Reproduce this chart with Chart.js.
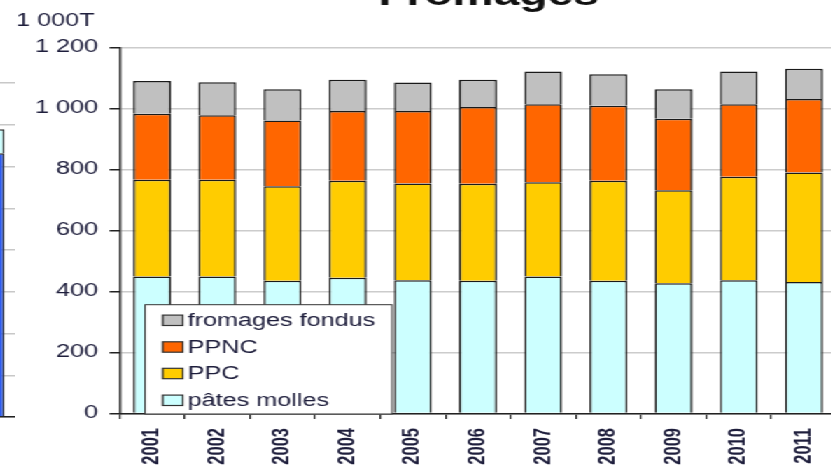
<!DOCTYPE html>
<html>
<head>
<meta charset="utf-8">
<script src="https://cdn.jsdelivr.net/npm/chart.js@4/dist/chart.umd.min.js"></script>
<style>
  html, body { margin: 0; padding: 0; background: #ffffff; }
  body { width: 831px; height: 467px; overflow: hidden; position: relative; }
  #stretch { position: absolute; left: 0; top: 0; width: 594px; height: 467px;
             transform: scaleX(1.4); transform-origin: 0 0; }
  #other { position: absolute; left: -48.6px; top: 0; }
  #main { position: absolute; left: 0; top: 0; }
</style>
</head>
<body>
<div id="stretch">
  <canvas id="other" width="60" height="467"></canvas>
  <canvas id="main" width="610" height="467"></canvas>
</div>
<script>
// ---- data ----
const titleText = 'Fromages';
const unitLabel = '1 000T';
const categories = ['2001','2002','2003','2004','2005','2006','2007','2008','2009','2010','2011'];
const patesMolles = [449, 449, 435, 445, 437, 435, 449, 435, 427, 437, 431];
const ppc         = [317, 317, 310, 318, 317, 318, 309, 328, 305, 339, 359];
const ppnc        = [217, 212, 216, 229, 238, 252, 256, 246, 234, 238, 241];
const fondus      = [107, 108, 102, 102,  93,  89, 107, 103,  97, 107,  99];
const seriesNames = ['pâtes molles', 'PPC', 'PPNC', 'fromages fondus'];
const yTickLabels = ['0', '200', '400', '600', '800', '1 000', '1 200'];

// neighbouring chart (only its right edge is visible)
const otherCategories = [''];
const otherLower = [632];
const otherUpper = [57];

const FONT = "'Liberation Sans', Arial, sans-serif";
const TEXT = '#1e1e3c';
Chart.defaults.font.family = FONT;
Chart.defaults.animation = false;

// ---- neighbouring chart fragment ----
new Chart(document.getElementById('other'), {
  type: 'bar',
  data: {
    labels: otherCategories,
    datasets: [
      { data: otherLower, backgroundColor: '#2e5cf0', borderColor: '#333', borderWidth: 1.5 },
      { data: otherUpper, backgroundColor: '#ccffff', borderColor: '#333', borderWidth: 1.5 }
    ]
  },
  options: {
    responsive: false,
    layout: { padding: { top: 83, bottom: 50, left: 0, right: 0 } },
    plugins: { legend: { display: false }, tooltip: { enabled: false } },
    datasets: { bar: { barPercentage: 0.74, categoryPercentage: 1 } },
    scales: {
      x: {
        stacked: true,
        ticks: { display: false },
        grid: { display: false },
        border: { color: '#222', width: 1.5 },
        afterFit: s => { s.height = 0; }
      },
      y: {
        stacked: true, min: 0, max: 800,
        ticks: { display: false, stepSize: 100 },
        grid: { color: '#c8c8c8', lineWidth: 1.5, drawTicks: false },
        border: { display: false },
        afterFit: s => { s.width = 0; }
      }
    }
  }
});

// ---- main chart ----
const colors = ['#ccffff', '#ffcc00', '#ff6600', '#c0c0c0'];
const values = [patesMolles, ppc, ppnc, fondus];

const extras = {
  id: 'extras',
  afterDraw(chart) {
    const ctx = chart.ctx;
    ctx.save();
    // title (cut at the top, as in the source)
    ctx.fillStyle = '#111';
    ctx.font = 'bold 33px ' + FONT;
    ctx.textAlign = 'center';
    ctx.textBaseline = 'alphabetic';
    ctx.fillText(titleText, 349, 4.5);
    // unit label
    ctx.fillStyle = TEXT;
    ctx.font = '18px ' + FONT;
    ctx.textAlign = 'left';
    ctx.fillText(unitLabel, 11.4, 26);
    // legend box
    const bx = 103.6, by = 304.7, bw = 176.4, bh = 109.3;
    ctx.fillStyle = '#ffffff';
    ctx.fillRect(bx, by, bw, bh);
    ctx.strokeStyle = '#333';
    ctx.lineWidth = 1;
    ctx.strokeRect(bx, by, bw, bh);
    const rows = [320.3, 347, 373.5, 400.3];
    const ds = chart.data.datasets.slice().reverse();
    ds.forEach((d, i) => {
      const cy = rows[i];
      ctx.fillStyle = d.backgroundColor;
      ctx.fillRect(116.2, cy - 5.2, 14.3, 10.4);
      ctx.strokeStyle = '#333';
      ctx.lineWidth = 1.2;
      ctx.strokeRect(116.2, cy - 5.2, 14.3, 10.4);
      ctx.fillStyle = TEXT;
      ctx.font = '18px ' + FONT;
      ctx.textAlign = 'left';
      ctx.textBaseline = 'alphabetic';
      ctx.fillText(d.label, 134, cy + 5.8);
    });
    ctx.restore();
  }
};

new Chart(document.getElementById('main'), {
  type: 'bar',
  data: {
    labels: categories,
    datasets: values.map((v, i) => ({
      label: seriesNames[i],
      data: v,
      backgroundColor: colors[i],
      borderColor: '#1a1a1a',
      borderWidth: 1.5
    }))
  },
  options: {
    responsive: false,
    layout: { padding: { top: 47.5, bottom: 0, left: 0, right: 12.4 } },
    plugins: { legend: { display: false }, tooltip: { enabled: false }, title: { display: false } },
    datasets: { bar: { barPercentage: 0.58, categoryPercentage: 1 } },
    scales: {
      x: {
        stacked: true,
        offset: true,
        grid: { drawOnChartArea: false, drawTicks: true, tickLength: 5.5, tickColor: '#222', lineWidth: 1.2, offset: true },
        border: { color: '#222', width: 1.5 },
        ticks: {
          autoSkip: false, minRotation: 90, maxRotation: 90, padding: 9,
          color: TEXT, font: { size: 16.5, weight: 'bold', family: FONT }
        },
        afterFit: s => { s.height = 53.5; }
      },
      y: {
        stacked: true, min: 0, max: 1200,
        grid: { color: '#cccccc', lineWidth: 1.5, drawTicks: true, tickLength: 7.1, tickColor: '#222' },
        border: { color: '#222', width: 1.5 },
        ticks: {
          stepSize: 200, padding: 8.2, color: TEXT, font: { size: 18, family: FONT },
          callback: (value, index) => yTickLabels[index]
        },
        afterFit: s => { s.width = 85.3; }
      }
    }
  },
  plugins: [extras]
});
</script>
</body>
</html>
